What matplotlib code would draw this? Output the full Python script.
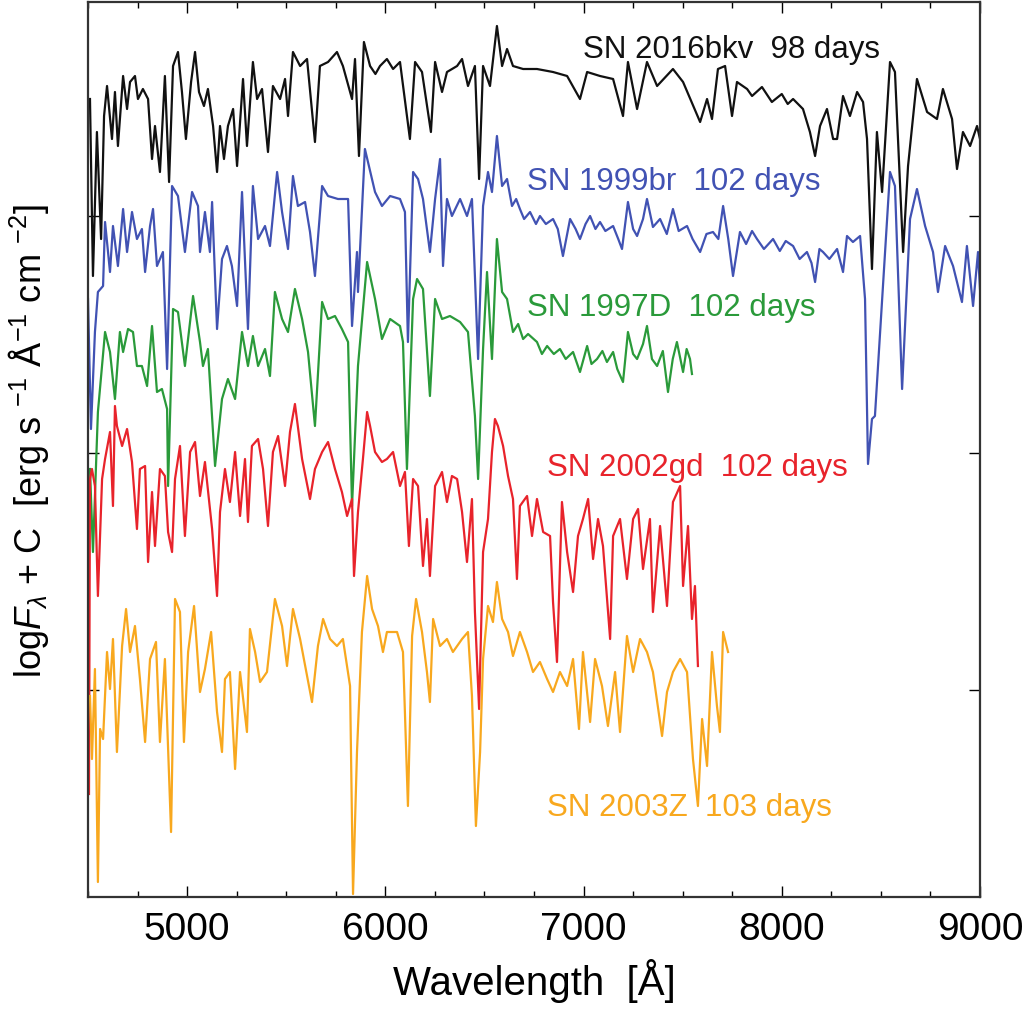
import matplotlib
matplotlib.use("Agg")
import matplotlib.pyplot as plt
from matplotlib.ticker import MultipleLocator

plt.rcParams["font.family"] = ["Liberation Sans", "DejaVu Sans"]
plt.rcParams["mathtext.fontset"] = "custom"
plt.rcParams["mathtext.rm"] = "Liberation Sans"
plt.rcParams["mathtext.it"] = "Liberation Sans:italic"

# spectra: wavelength [A] and log flux + C (arbitrary units, 0.01 dex)
wl_2016bkv = [4510, 4525, 4545, 4566, 4581, 4596, 4621, 4636, 4651, 4677, 4697, 4712, 4737, 4752,
              4777, 4803, 4823, 4838, 4863, 4888, 4909, 4929, 4954, 4974, 4994, 5020, 5040, 5060,
              5085, 5105, 5131, 5151, 5166, 5186, 5206, 5232, 5252, 5282, 5302, 5332, 5353, 5378,
              5408, 5433, 5469, 5494, 5509, 5534, 5570, 5605, 5645, 5670, 5711, 5756, 5786, 5832,
              5847, 5867, 5892, 5923, 5950, 5973, 6008, 6039, 6074, 6124, 6150, 6185, 6230, 6251,
              6286, 6311, 6362, 6387, 6417, 6452, 6473, 6493, 6528, 6563, 6589, 6614, 6644, 6695,
              6765, 6846, 6917, 6982, 7018, 7083, 7149, 7199, 7224, 7270, 7320, 7371, 7451, 7502,
              7588, 7623, 7648, 7678, 7714, 7749, 7774, 7825, 7850, 7900, 7950, 8000, 8030, 8057,
              8107, 8142, 8168, 8193, 8228, 8259, 8279, 8309, 8344, 8380, 8410, 8430, 8455, 8480,
              8506, 8546, 8571, 8612, 8637, 8682, 8733, 8783, 8813, 8859, 8884, 8914, 8950, 8985,
              9000]
fl_2016bkv = [800, 623, 767, 660, 783, 813, 760, 807, 753, 823, 790, 817, 823, 800,
              810, 800, 740, 773, 727, 823, 717, 833, 847, 807, 760, 817, 847, 807,
              793, 810, 773, 727, 773, 740, 773, 790, 733, 820, 753, 837, 800, 810,
              747, 813, 800, 820, 783, 847, 833, 840, 757, 833, 837, 847, 833, 800,
              840, 743, 857, 833, 825, 833, 840, 830, 837, 760, 837, 827, 767, 837,
              807, 827, 833, 840, 813, 833, 720, 833, 813, 873, 833, 850, 833, 830,
              830, 827, 823, 800, 827, 823, 820, 783, 837, 790, 837, 813, 830, 817,
              777, 800, 780, 830, 833, 783, 817, 810, 803, 812, 797, 805, 795, 800,
              790, 767, 743, 773, 790, 760, 760, 803, 783, 807, 797, 760, 630, 767,
              707, 837, 827, 647, 733, 820, 787, 780, 810, 780, 730, 767, 753, 773,
              760]

wl_1999br = [4500, 4515, 4535, 4550, 4576, 4586, 4611, 4626, 4651, 4677, 4697, 4722, 4747, 4772,
             4788, 4813, 4828, 4848, 4878, 4899, 4924, 4954, 4989, 5025, 5055, 5065, 5090, 5115,
             5126, 5151, 5176, 5201, 5226, 5252, 5277, 5307, 5332, 5358, 5393, 5418, 5454, 5479,
             5509, 5534, 5559, 5595, 5620, 5645, 5681, 5711, 5761, 5812, 5832, 5857, 5862, 5897,
             5948, 5983, 6024, 6074, 6099, 6114, 6140, 6165, 6190, 6225, 6251, 6276, 6291, 6311,
             6336, 6377, 6412, 6437, 6468, 6493, 6518, 6538, 6563, 6589, 6614, 6639, 6660, 6679,
             6700, 6730, 6760, 6780, 6810, 6846, 6870, 6896, 6932, 6960, 6982, 7010, 7033, 7060,
             7083, 7110, 7149, 7175, 7194, 7224, 7250, 7270, 7300, 7320, 7350, 7386, 7420, 7451,
             7480, 7522, 7550, 7588, 7620, 7653, 7680, 7704, 7730, 7754, 7789, 7820, 7850, 7875,
             7910, 7956, 7990, 8020, 8057, 8090, 8127, 8150, 8168, 8190, 8208, 8240, 8279, 8309,
             8329, 8359, 8395, 8420, 8435, 8455, 8470, 8496, 8546, 8571, 8607, 8647, 8682, 8723,
             8763, 8788, 8824, 8864, 8909, 8934, 8965, 8990, 9000]
fl_1999br = [600, 470, 567, 607, 613, 677, 627, 673, 633, 690, 647, 687, 660, 670,
             627, 673, 690, 633, 647, 530, 713, 703, 647, 707, 693, 647, 687, 647,
             697, 570, 640, 653, 633, 593, 707, 570, 713, 660, 673, 653, 727, 687,
             650, 723, 693, 697, 667, 623, 713, 703, 700, 700, 573, 647, 607, 750,
             707, 693, 703, 700, 687, 557, 727, 720, 700, 647, 700, 740, 633, 700,
             683, 700, 683, 700, 540, 693, 727, 707, 763, 713, 720, 693, 700, 690,
             680, 687, 675, 683, 675, 680, 670, 643, 680, 670, 660, 675, 683, 670,
             677, 668, 673, 660, 650, 697, 670, 663, 680, 700, 672, 680, 665, 690,
             668, 673, 660, 647, 665, 667, 660, 693, 660, 623, 667, 655, 668, 660,
             650, 660, 648, 658, 653, 640, 647, 636, 617, 650, 647, 640, 650, 627,
             663, 657, 663, 600, 435, 480, 483, 567, 727, 713, 510, 680, 710, 673,
             647, 607, 653, 633, 597, 653, 593, 647, 610]

wl_1997D = [4510, 4525, 4550, 4586, 4611, 4636, 4661, 4677, 4702, 4727, 4747, 4772, 4798, 4823,
            4848, 4873, 4899, 4904, 4929, 4954, 4989, 5030, 5065, 5080, 5105, 5141, 5176, 5206,
            5242, 5277, 5307, 5332, 5358, 5393, 5418, 5443, 5479, 5509, 5544, 5580, 5610, 5645,
            5681, 5711, 5746, 5781, 5812, 5832, 5862, 5908, 5948, 5983, 6024, 6074, 6089, 6109,
            6140, 6160, 6190, 6225, 6251, 6286, 6326, 6377, 6417, 6452, 6468, 6493, 6513, 6538,
            6563, 6589, 6614, 6644, 6670, 6695, 6720, 6765, 6790, 6816, 6850, 6881, 6910, 6947,
            6982, 7018, 7040, 7068, 7095, 7118, 7149, 7170, 7199, 7224, 7250, 7270, 7300, 7320,
            7345, 7371, 7400, 7426, 7450, 7471, 7502, 7520, 7537, 7547]
fl_1997D = [430, 347, 487, 567, 547, 500, 567, 547, 570, 567, 533, 533, 513, 573,
            507, 510, 490, 413, 590, 587, 533, 603, 557, 533, 550, 433, 500, 520,
            500, 567, 533, 563, 533, 550, 523, 607, 580, 567, 610, 580, 547, 473,
            597, 580, 583, 570, 557, 393, 533, 637, 600, 560, 580, 573, 557, 430,
            600, 620, 610, 503, 600, 580, 583, 577, 567, 483, 420, 550, 627, 540,
            660, 607, 600, 567, 575, 560, 565, 557, 545, 553, 545, 550, 540, 547,
            527, 553, 535, 540, 548, 537, 547, 530, 517, 567, 545, 540, 555, 573,
            540, 533, 548, 507, 540, 557, 527, 550, 540, 525]

wl_2002gd = [4505, 4510, 4520, 4535, 4550, 4571, 4586, 4611, 4626, 4636, 4646, 4672, 4697, 4722,
             4747, 4762, 4788, 4803, 4823, 4838, 4863, 4888, 4904, 4924, 4939, 4964, 4989, 5015,
             5040, 5065, 5090, 5126, 5151, 5166, 5191, 5216, 5242, 5267, 5292, 5307, 5327, 5358,
             5383, 5408, 5433, 5459, 5494, 5519, 5544, 5580, 5620, 5645, 5681, 5711, 5746, 5781,
             5807, 5832, 5842, 5862, 5887, 5908, 5923, 5948, 5983, 6008, 6039, 6074, 6099, 6119,
             6140, 6165, 6190, 6210, 6225, 6251, 6286, 6311, 6336, 6362, 6387, 6412, 6437, 6452,
             6473, 6493, 6518, 6538, 6553, 6568, 6594, 6619, 6644, 6664, 6679, 6715, 6740, 6765,
             6796, 6831, 6846, 6866, 6891, 6917, 6947, 6972, 6997, 7023, 7048, 7073, 7098, 7134,
             7149, 7184, 7219, 7250, 7275, 7300, 7335, 7350, 7386, 7421, 7451, 7487, 7502, 7527,
             7547, 7562, 7577]
fl_2002gd = [105, 420, 430, 413, 303, 420, 440, 467, 393, 493, 473, 453, 470, 437,
             370, 430, 433, 337, 407, 353, 430, 423, 367, 347, 420, 453, 363, 447,
             457, 403, 437, 370, 303, 387, 430, 397, 447, 383, 440, 377, 453, 460,
             430, 373, 447, 463, 413, 467, 495, 440, 400, 430, 447, 457, 430, 407,
             383, 400, 323, 387, 440, 487, 473, 447, 437, 440, 447, 413, 427, 353,
             420, 413, 333, 380, 323, 413, 427, 397, 423, 420, 387, 337, 400, 287,
             190, 347, 380, 447, 480, 473, 453, 423, 400, 320, 393, 403, 363, 400,
             367, 363, 297, 237, 397, 347, 307, 363, 380, 400, 340, 380, 353, 260,
             363, 380, 320, 380, 390, 330, 380, 287, 373, 293, 397, 413, 313, 373,
             280, 313, 233]

wl_2003Z = [4510, 4520, 4535, 4550, 4561, 4576, 4596, 4611, 4626, 4646, 4672, 4692, 4712, 4737,
            4762, 4788, 4813, 4843, 4863, 4888, 4919, 4939, 4964, 4984, 5005, 5035, 5065, 5090,
            5121, 5151, 5176, 5191, 5216, 5242, 5267, 5302, 5317, 5343, 5368, 5403, 5443, 5479,
            5504, 5534, 5570, 5630, 5660, 5686, 5721, 5756, 5786, 5822, 5837, 5857, 5882, 5908,
            5933, 5963, 5988, 6008, 6059, 6089, 6114, 6135, 6155, 6185, 6210, 6225, 6241, 6276,
            6311, 6341, 6387, 6417, 6437, 6457, 6478, 6493, 6518, 6543, 6563, 6589, 6619, 6644,
            6679, 6715, 6745, 6780, 6816, 6846, 6881, 6917, 6947, 6977, 6997, 7033, 7058, 7093,
            7123, 7159, 7184, 7219, 7250, 7285, 7320, 7350, 7396, 7421, 7451, 7487, 7522, 7552,
            7577, 7598, 7623, 7648, 7673, 7688, 7704, 7729]
fl_2003Z = [203, 140, 230, 17, 170, 160, 247, 210, 260, 147, 253, 290, 247, 273,
            220, 157, 240, 257, 157, 240, 67, 300, 287, 157, 247, 293, 207, 230,
            267, 187, 147, 220, 227, 130, 227, 167, 270, 247, 217, 227, 300, 273,
            233, 290, 260, 197, 253, 280, 260, 253, 260, 213, 5, 147, 267, 323,
            290, 273, 247, 267, 267, 247, 93, 263, 300, 267, 227, 197, 280, 253,
            260, 247, 260, 267, 203, 73, 147, 240, 293, 277, 317, 280, 267, 243,
            267, 247, 227, 237, 220, 207, 227, 213, 240, 170, 247, 177, 240, 213,
            173, 227, 167, 263, 227, 260, 247, 227, 163, 207, 227, 240, 227, 140,
            93, 180, 133, 247, 193, 167, 267, 247]

names = ["SN 2016bkv  98 days", "SN 1999br  102 days", "SN 1997D  102 days",
         "SN 2002gd  102 days", "SN 2003Z  103 days"]
label_x = [6995, 6715, 6715, 6815, 6815]
label_y = [850, 718, 592, 432, 92]
colors = ["#111111", "#4152b3", "#2a9a3a", "#e8232b", "#f8a81e"]

spectra = [(wl_2016bkv, fl_2016bkv), (wl_1999br, fl_1999br), (wl_1997D, fl_1997D),
           (wl_2002gd, fl_2002gd), (wl_2003Z, fl_2003Z)]

fig = plt.figure(figsize=(10.34, 10.12), dpi=100)
ax = fig.add_axes([88 / 1034, 1 - 898 / 1012, 892 / 1034, 895 / 1012])

for (wl, fl), c in zip(spectra, colors):
    ax.plot(wl, fl, color=c, lw=1.6)

for name, x, y, c in zip(names, label_x, label_y, colors):
    ax.text(x, y, name, color=c, fontsize=22.5, va="center", ha="left")

ax.set_xlim(4500, 9000)
ax.set_ylim(2, 897)
ax.set_xticks([5000, 6000, 7000, 8000, 9000])
ax.xaxis.set_minor_locator(MultipleLocator(250))
ax.set_yticks([209, 446, 683])
ax.set_yticklabels([])
ax.tick_params(which="both", direction="in", top=True, right=True, left=True)
ax.tick_params(which="major", length=8, width=1, labelsize=28, pad=10)
ax.tick_params(which="minor", length=4.5, width=1)
for s in ax.spines.values():
    s.set_linewidth(1.6)
    s.set_color("#333333")

ax.set_xlabel("Wavelength  [Å]", fontsize=29, labelpad=8)
ax.set_ylabel(r"log$F_\lambda$ + C  [erg s $^{-1}$ Å$^{-1}$ cm $^{-2}$]", fontsize=26)
ax.yaxis.set_label_coords(-0.042, 0.51)

fig.savefig("out.png", dpi=100)
